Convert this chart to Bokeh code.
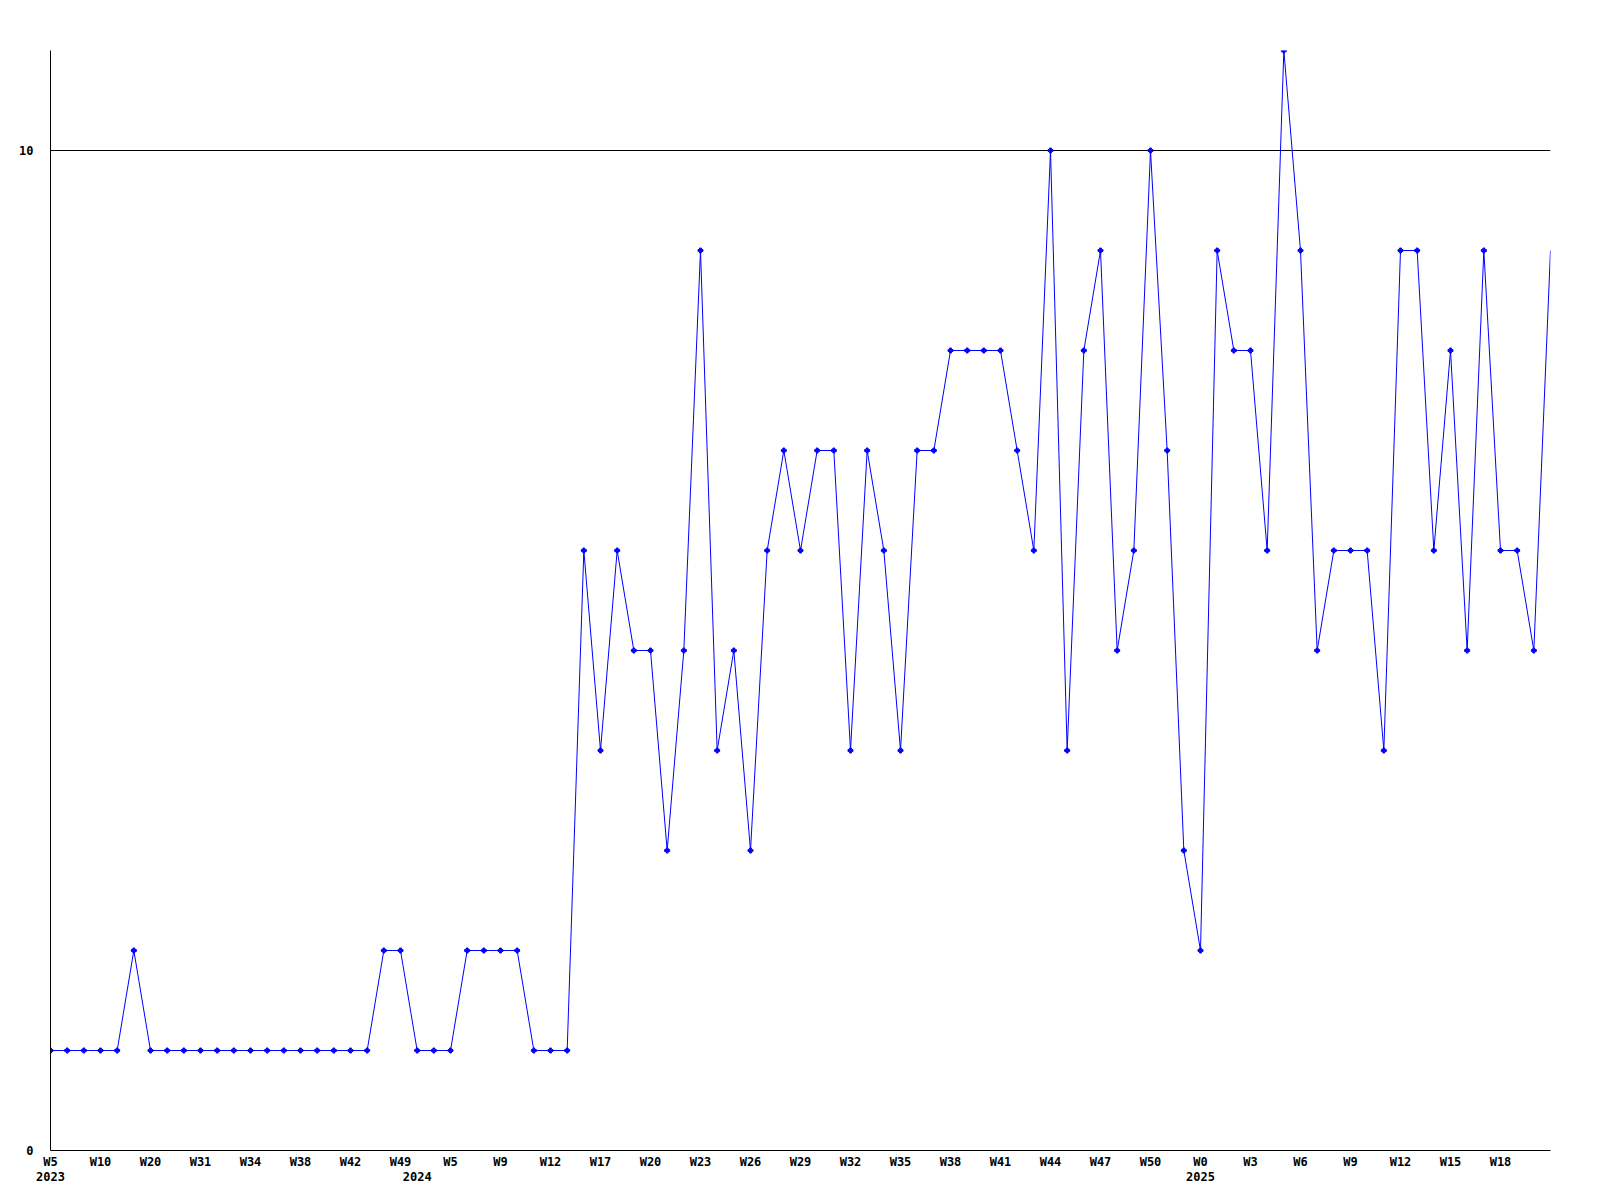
from bokeh.plotting import figure
from bokeh.models import Range1d, FixedTicker, ColumnDataSource, LinearAxis
from bokeh.embed import file_html
from bokeh.resources import INLINE

# ---- data ----
values = [1, 1, 1, 1, 1, 2, 1, 1, 1, 1, 1, 1, 1, 1, 1, 1, 1, 1, 1, 1,
          2, 2, 1, 1, 1, 2, 2, 2, 2, 1, 1, 1,
          6, 4, 6, 5, 5, 3, 5, 9, 4, 5, 3, 6, 7, 6, 7, 7, 4, 7, 6, 4, 7, 7,
          8, 8, 8, 8, 7, 6,
          10, 4, 8, 9, 5, 6, 10, 7, 3, 2, 9, 8, 8, 6, 11, 9, 5, 6, 6, 6,
          4, 9, 9, 6, 8, 5, 9, 6, 6, 5, 9]
week_labels = ["W5", "W10", "W20", "W31", "W34", "W38", "W42", "W49", "W5", "W9",
               "W12", "W17", "W20", "W23", "W26", "W29", "W32", "W35", "W38", "W41",
               "W44", "W47", "W50", "W0", "W3", "W6", "W9", "W12", "W15", "W18"]
label_step = 3
years = ["2023", "2024", "2025"]
year_index = [0, 22, 69]
y_ticks = [0, 10]

x = list(range(len(values)))
src = ColumnDataSource(dict(x=x, y=values))
# the final point sits on the frame edge and shows no marker in the original
src_pts = ColumnDataSource(dict(x=x[:-1], y=values[:-1]))

FONT = "DejaVu Sans Mono"

p = figure(frame_width=1500, frame_height=1100,
           min_border_left=50, min_border_top=50, min_border_right=30, min_border_bottom=10,
           x_range=Range1d(0, len(values) - 1), y_range=Range1d(0, 11),
           output_backend="svg", toolbar_location=None)
p.outline_line_color = None
p.background_fill_color = "white"
p.border_fill_color = "white"

p.line("x", "y", source=src, line_color="#0000ff", line_width=1)
p.scatter("x", "y", source=src_pts, marker="plus", size=5, color="#0000ff")


def style_axis(ax):
    ax.major_tick_out = 0
    ax.major_tick_in = 0
    ax.minor_tick_out = 0
    ax.minor_tick_in = 0
    ax.major_label_text_font = FONT
    ax.major_label_text_font_style = "bold"
    ax.major_label_text_font_size = "12px"
    ax.major_label_text_color = "black"


tick_pos = [i * label_step for i in range(len(week_labels))]
xa = p.xaxis[0]
style_axis(xa)
xa.ticker = FixedTicker(ticks=tick_pos)
xa.major_label_overrides = {t: lab for t, lab in zip(tick_pos, week_labels)}
xa.major_label_standoff = 4
xa.axis_line_color = "black"
xa.axis_line_width = 1

# second row: years
xa2 = LinearAxis(ticker=FixedTicker(ticks=year_index),
                 major_label_overrides={i: y for i, y in zip(year_index, years)})
style_axis(xa2)
xa2.axis_line_color = None
xa2.major_label_standoff = 0
p.add_layout(xa2, "below")

ya = p.yaxis[0]
style_axis(ya)
ya.ticker = FixedTicker(ticks=y_ticks)
ya.major_label_standoff = 17
ya.axis_line_color = "black"
ya.axis_line_width = 1

p.xgrid.visible = False
p.ygrid.ticker = FixedTicker(ticks=[10])
p.ygrid.grid_line_color = "black"
p.ygrid.grid_line_alpha = 1.0
p.ygrid.grid_line_width = 1

open("out.html", "w").write(file_html(p, INLINE))
